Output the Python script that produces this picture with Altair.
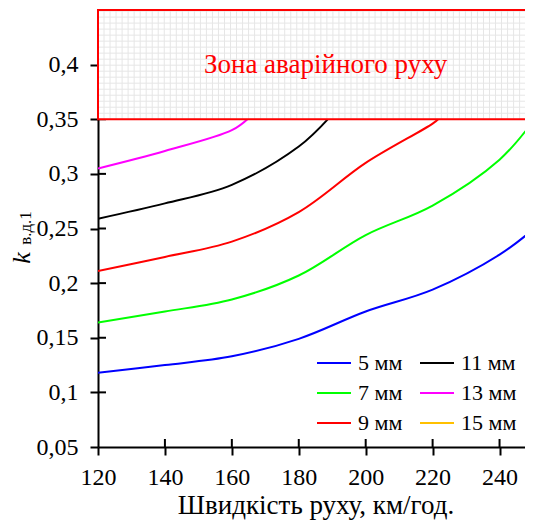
import altair as alt
import numpy as np
import pandas as pd

# ---- data ----
series_names = ["5 мм", "7 мм", "9 мм", "11 мм", "13 мм", "15 мм"]
series_colors = ["#0000FF", "#00FF00", "#FF0000", "#000000", "#FF00FF", "#FFC000"]

x_5 = [120, 140, 160, 180, 200, 220, 240, 250]
k_5 = [0.118, 0.125, 0.133, 0.149, 0.174, 0.194, 0.226, 0.249]
x_7 = [120, 140, 160, 180, 200, 220, 240, 250]
k_7 = [0.164, 0.174, 0.185, 0.207, 0.244, 0.271, 0.313, 0.348]
x_9 = [120, 140, 160, 180, 200, 220, 222]
k_9 = [0.211, 0.224, 0.238, 0.265, 0.310, 0.346, 0.351]
x_11 = [120, 140, 160, 180, 189]
k_11 = [0.259, 0.273, 0.290, 0.325, 0.351]
x_13 = [120, 140, 160, 165]
k_13 = [0.305, 0.321, 0.340, 0.351]

x_ticks = [120, 140, 160, 180, 200, 220, 240]
y_ticks = [0.05, 0.1, 0.15, 0.2, 0.25, 0.3, 0.35, 0.4]
x_domain = [120, 250]
y_domain = [0.05, 0.45]
zone_low, zone_high = 0.35, 0.45
zone_label = "Зона аварійного руху"
x_title = "Швидкість руху, км/год."

W, H = 435, 437
FONT = "Liberation Serif"

rows = []
for name, xs_, ks in [("5 мм", x_5, k_5), ("7 мм", x_7, k_7), ("9 мм", x_9, k_9),
                      ("11 мм", x_11, k_11), ("13 мм", x_13, k_13)]:
    for i, (a, b) in enumerate(zip(xs_, ks)):
        rows.append({"series": name, "v": a, "k": b, "order": i})
df = pd.DataFrame(rows)

xs = alt.Scale(domain=x_domain, nice=False, zero=False)
ys = alt.Scale(domain=y_domain, nice=False, zero=False)

lines = alt.Chart(df).mark_line(strokeWidth=2, interpolate="catmull-rom", clip=True).encode(
    x=alt.X("v:Q", scale=xs,
            axis=alt.Axis(values=x_ticks, title=x_title, titleFont=FONT, titleFontSize=27,
                          titleFontWeight="normal", titleColor="black", titlePadding=3,
                          labelFont=FONT, labelFontSize=24, labelColor="black", labelPadding=10,
                          labelFlush=False, labelOverlap=False,
                          tickSize=8, tickWidth=2, tickColor="black",
                          domainColor="black", domainWidth=2, grid=False)),
    y=alt.Y("k:Q", scale=ys,
            axis=alt.Axis(values=y_ticks, title=None,
                          labelExpr="replace(format(datum.value, '~g'), '.', ',')",
                          labelFont=FONT, labelFontSize=24, labelColor="black", labelPadding=12,
                          labelFlush=False, labelOverlap=False,
                          tickSize=8, tickWidth=2, tickColor="black",
                          domainColor="black", domainWidth=2, grid=False)),
    color=alt.Color("series:N",
                    scale=alt.Scale(domain=series_names, range=series_colors),
                    legend=alt.Legend(title=None, orient="none", legendX=218, legendY=335,
                                      columns=2, symbolType="stroke", symbolSize=1156,
                                      symbolStrokeWidth=2, labelFont=FONT, labelFontSize=22,
                                      labelColor="black", labelOffset=6, columnPadding=13,
                                      rowPadding=1, padding=0, symbolOffset=0)),
    order="order:Q",
)

# inner tick marks (axis ticks cross the axis lines)
xt = pd.DataFrame({"v": x_ticks[1:]})
inner_x = alt.Chart(xt).mark_rule(color="black", strokeWidth=2).encode(
    x=alt.X("v:Q", scale=xs), y=alt.value(H), y2=alt.value(H - 8))
yt = pd.DataFrame({"k": y_ticks[1:]})
inner_y = alt.Chart(yt).mark_rule(color="black", strokeWidth=2).encode(
    y=alt.Y("k:Q", scale=ys), x=alt.value(0), x2=alt.value(8))

zone_df = pd.DataFrame({"x0": [x_domain[0]], "x1": [x_domain[1]], "y0": [zone_low], "y1": [zone_high]})
zone_fill = alt.Chart(zone_df).mark_rect(fill="white").encode(
    x=alt.X("x0:Q", scale=xs), x2="x1:Q", y=alt.Y("y0:Q", scale=ys), y2="y1:Q")

gx = np.arange(x_domain[0], x_domain[1] + 0.01, 1.8)
gy = np.arange(zone_low, zone_high + 1e-9, 0.0055)
grid_v = alt.Chart(pd.DataFrame({"gx": gx, "y0": zone_low, "y1": zone_high})).mark_rule(
    color="#e6e6e6", strokeWidth=1).encode(
    x=alt.X("gx:Q", scale=xs), y=alt.Y("y0:Q", scale=ys), y2="y1:Q")
grid_h = alt.Chart(pd.DataFrame({"gy": gy, "x0": x_domain[0], "x1": x_domain[1]})).mark_rule(
    color="#e6e6e6", strokeWidth=1).encode(
    y=alt.Y("gy:Q", scale=ys), x=alt.X("x0:Q", scale=xs), x2="x1:Q")

zone_border = alt.Chart(zone_df).mark_rect(fillOpacity=0, stroke="#FF0000", strokeWidth=2).encode(
    x=alt.X("x0:Q", scale=xs), x2="x1:Q", y=alt.Y("y0:Q", scale=ys), y2="y1:Q")

zone_text = alt.Chart(pd.DataFrame({"t": [zone_label], "x": [188], "y": [0.4]})).mark_text(
    font=FONT, fontSize=27, color="#FF0000", align="center", baseline="middle").encode(
    x=alt.X("x:Q", scale=xs), y=alt.Y("y:Q", scale=ys), text="t:N")

# y title: italic k with subscript
k_main = alt.Chart(pd.DataFrame({"t": ["k"]})).mark_text(
    font=FONT, fontSize=26, fontStyle="italic", angle=270, align="center", baseline="middle",
    color="black").encode(x=alt.value(-76), y=alt.value(248), text="t:N")
k_sub = alt.Chart(pd.DataFrame({"t": ["в.д.1"]})).mark_text(
    font=FONT, fontSize=17, angle=270, align="center", baseline="middle",
    color="black").encode(x=alt.value(-72), y=alt.value(218), text="t:N")

chart = alt.layer(lines, inner_x, inner_y, zone_fill, grid_v, grid_h, zone_border, zone_text,
                  k_main, k_sub).properties(
    width=W, height=H,
    autosize=alt.AutoSizeParams(type="none"),
    padding={"left": 90, "top": 2, "right": -8, "bottom": 73},
).configure_view(stroke=None)

chart.save("out.html", embed_options={"renderer": "svg", "actions": False})
